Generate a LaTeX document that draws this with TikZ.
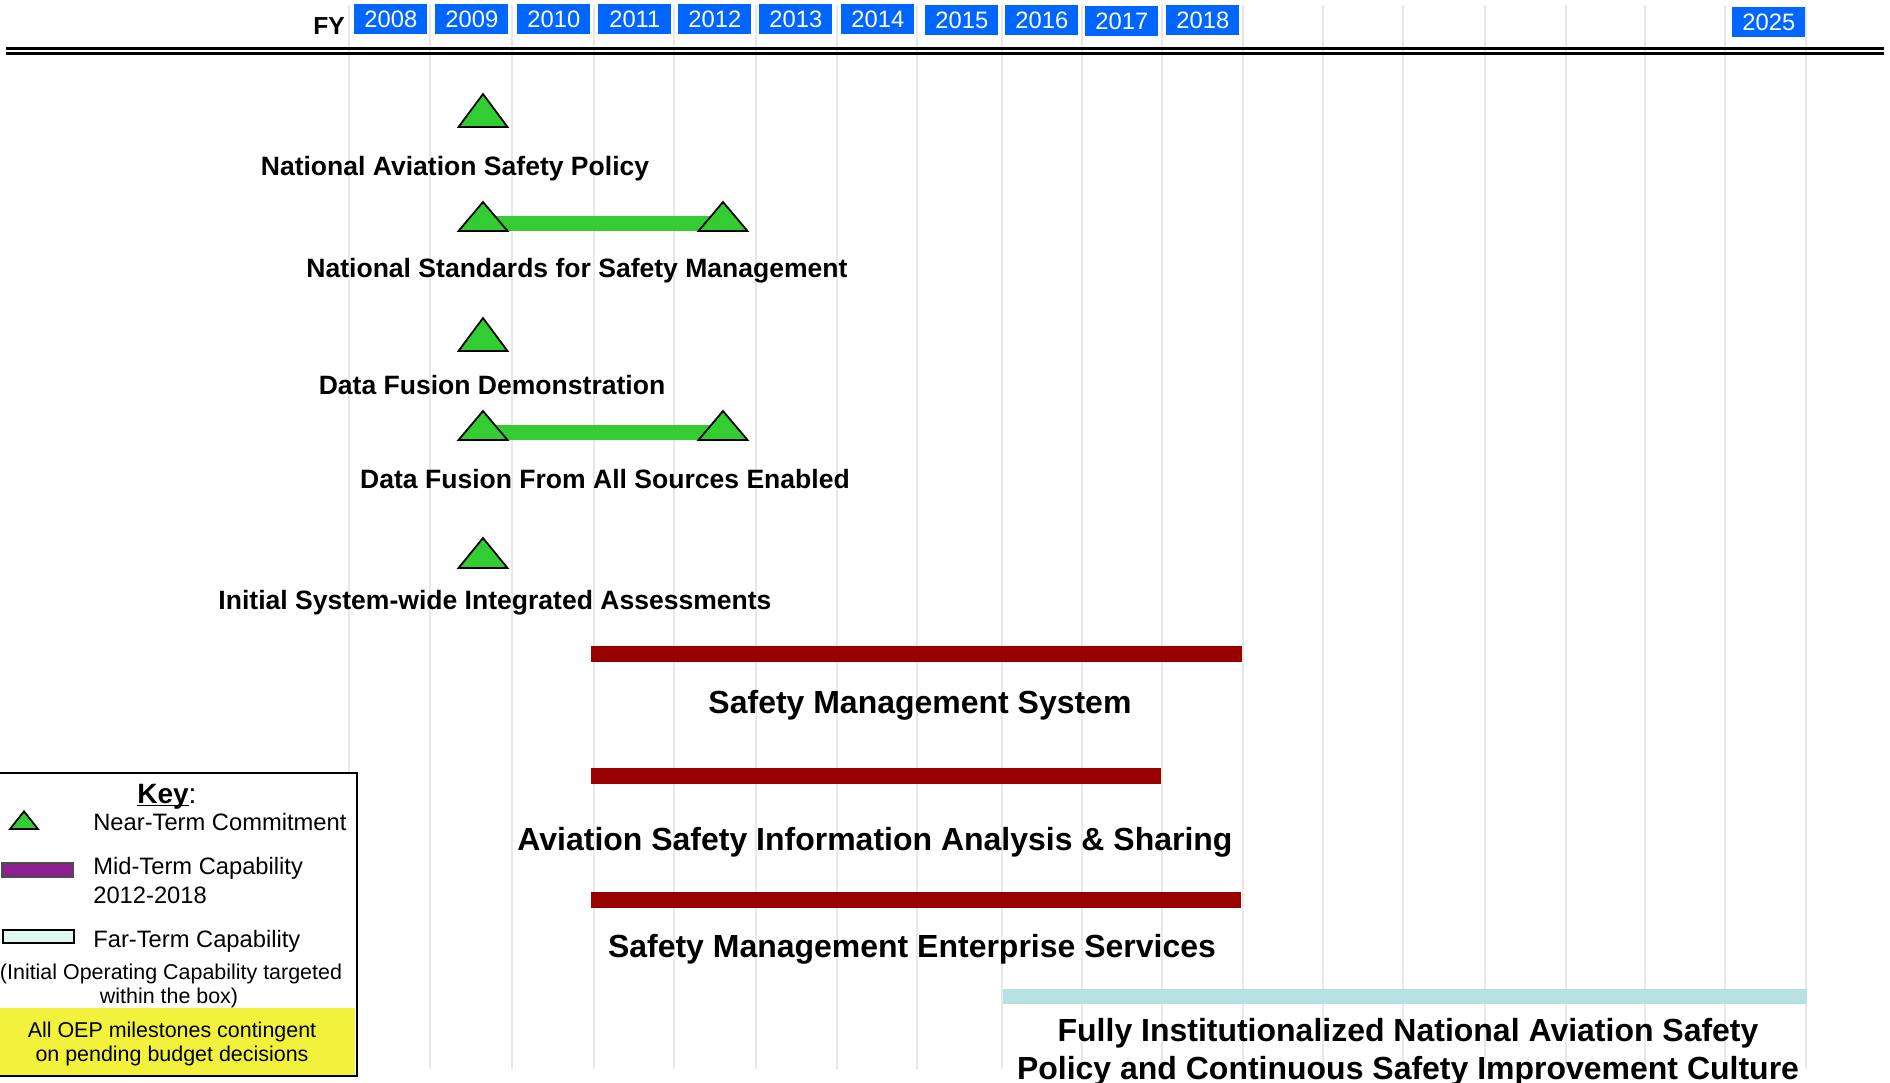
\documentclass[tikz,border=0pt]{standalone}
\usepackage{fontspec}
\setmainfont{Liberation Sans}
\usepackage{xcolor}
\usepackage{tikz}
\usetikzlibrary{calc}

\definecolor{fyblue}{RGB}{0,102,255}
\definecolor{msgreen}{RGB}{51,204,51}
\definecolor{midred}{RGB}{153,0,0}
\definecolor{farcyan}{RGB}{184,225,228}
\definecolor{keypurple}{RGB}{140,32,140}
\definecolor{keycyan}{RGB}{222,248,242}
\definecolor{noteyellow}{RGB}{242,242,60}
\definecolor{gridgray}{RGB}{232,232,232}

% green milestone triangle, #1 = height
\tikzset{
    pics/milestone/.style={code={
        \draw[fill=msgreen, line width=1pt] (-24.5,0) -- (24.5,0) -- (0,-#1) -- cycle;
    }}
}

\begin{document}
\begin{tikzpicture}[x=0.2mm, y=-0.2mm,
    yearbox/.style={fill=fyblue, text=white, anchor=north west, inner sep=0pt,
        minimum width=14.6mm, minimum height=6mm, font=\fontsize{13.5}{15}\selectfont},
    mslabel/.style={anchor=base, inner sep=0pt, font=\bfseries\fontsize{15.1}{18}\selectfont},
    caplabel/.style={anchor=base, inner sep=0pt, font=\bfseries\fontsize{18.2}{21}\selectfont},
    keytext/.style={anchor=base west, inner sep=0pt, font=\fontsize{13.5}{16}\selectfont},
    notetext/.style={anchor=base, inner sep=0pt, font=\fontsize{12.2}{14}\selectfont}]

    \useasboundingbox (0,0) rectangle (1890,1082);
    \clip (0,0) rectangle (1890,1082);

    % year columns
    \foreach \x in {349,430,512,594,674,756,837,917,1002,1082,1162,1243,1323,1403,1485,1566,1645,1725,1806} {
        \draw[gridgray, line width=0.8pt] (\x,5) -- (\x,1069);
    }

    % time axis (double rule)
    \draw[line width=2pt] (6,48.5) -- (1884,48.5);
    \draw[line width=1.5pt] (6,53.3) -- (1884,53.3);

    \node[anchor=base west, inner sep=0pt, font=\bfseries\fontsize{14}{16}\selectfont] (fy) at (313,34) {FY};
    \foreach \yr/\xl/\yt in {2008/354/4, 2009/435/4, 2010/517/4, 2011/598/4, 2012/678/4, 2013/759/4,
                             2014/841/4, 2015/925/5, 2016/1005/5, 2017/1085/6, 2018/1166/5, 2025/1732/7} {
        \node[yearbox] (y\yr) at (\xl,\yt) {\yr};
    }

    % near-term commitments
    \coordinate (nasp) at (483,127);
    \coordinate (nssmA) at (483,231);
    \coordinate (nssmB) at (723,231);
    \coordinate (dfd) at (483,351);
    \coordinate (dfasA) at (483,440);
    \coordinate (dfasB) at (723,440);
    \coordinate (isia) at (483,568);

    \fill[msgreen] ($(nssmA)+(0,-15)$) rectangle (nssmB);
    \fill[msgreen] ($(dfasA)+(0,-15)$) rectangle (dfasB);

    \pic at (nasp) {milestone=33};
    \pic at (nssmA) {milestone=29};
    \pic at (nssmB) {milestone=29};
    \pic at (dfd) {milestone=33};
    \pic at (dfasA) {milestone=29};
    \pic at (dfasB) {milestone=29};
    \pic at (isia) {milestone=30};

    \node[mslabel] (naspText) at (455,175) {National Aviation Safety Policy};
    \node[mslabel] (nssmText) at (577,277) {National Standards for Safety Management};
    \node[mslabel] (dfdText) at (492,394) {Data Fusion Demonstration};
    \node[mslabel] (dfasText) at (605,488) {Data Fusion From All Sources Enabled};
    \node[mslabel] (isiaText) at (495,609) {Initial System-wide Integrated Assessments};

    % mid-term capabilities
    \foreach \ya/\xb in {646/1242, 768/1161, 892/1241} {
        \fill[midred] (591,\ya) rectangle (\xb,\ya+16);
    }
    \node[caplabel] (smsText) at (920,713) {Safety Management System};
    \node[caplabel] (asiasText) at (875,850) {Aviation Safety Information Analysis \& Sharing};
    \node[caplabel] (smesText) at (912,957) {Safety Management Enterprise Services};

    % far-term capability
    \fill[farcyan] (1003,989) rectangle (1807,1004);
    \node[caplabel] (finaText) at (1408,1041) {Fully Institutionalized National Aviation Safety};
    \node[caplabel] (pcsiText) at (1408,1079) {Policy and Continuous Safety Improvement Culture};

    % key
    \draw[fill=white, line width=1.2pt] (-5,773) rectangle (357,1076);
    \fill[noteyellow] (0,1008) rectangle (355,1075);
    \node[anchor=base, inner sep=0pt, font=\fontsize{15.9}{18}\selectfont] (keyHead) at (167,803) {\underline{\smash{\textbf{Key}}}:};
    \pic[scale=0.57] at (24,829) {milestone=31};
    \node[keytext] (keyNear) at (93,830) {Near-Term Commitment};
    \draw[fill=keypurple, draw=black!70, line width=0.8pt] (2,863) rectangle (73,877);
    \node[keytext] (keyMid) at (93,874) {Mid-Term Capability};
    \node[keytext] (keyMidYrs) at (93,903) {2012-2018};
    \draw[fill=keycyan, line width=1pt] (3,930) rectangle (74,943);
    \node[keytext] (keyFar) at (93,947) {Far-Term Capability};
    \node[notetext] (keyIoc) at (171,979) {(Initial Operating Capability targeted};
    \node[notetext] (keyIocB) at (169,1003) {within the box)};
    \node[notetext] (noteA) at (172,1037) {All OEP milestones contingent};
    \node[notetext] (noteB) at (172,1061) {on pending budget decisions};

\end{tikzpicture}
\end{document}
